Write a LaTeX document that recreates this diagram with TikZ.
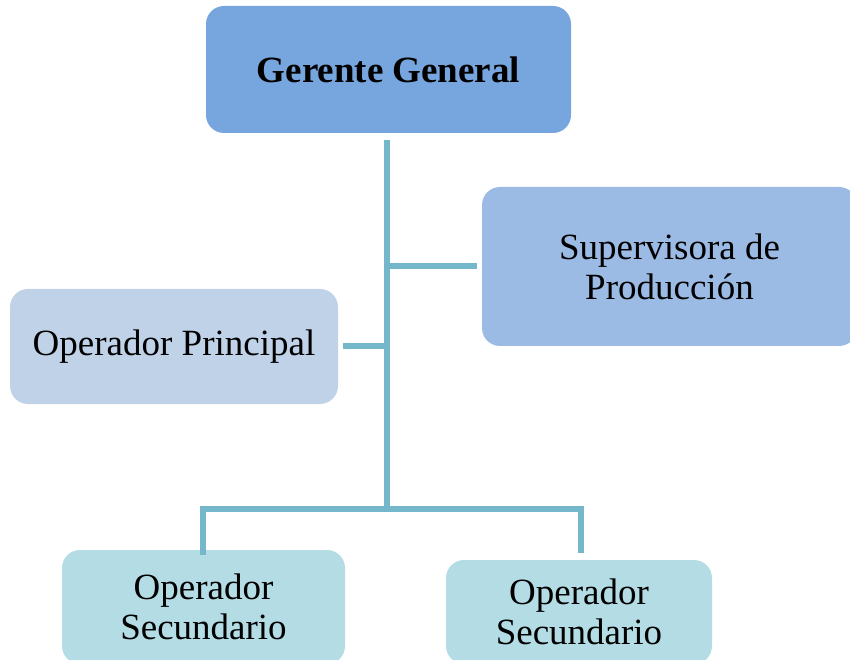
\documentclass[tikz,border=0pt]{standalone}
\usepackage{fontspec}
\setmainfont{Liberation Serif}
\usetikzlibrary{calc}
\definecolor{boxA}{HTML}{77A5DD}
\definecolor{boxB}{HTML}{9BBBE5}
\definecolor{boxC}{HTML}{BFD2E8}
\definecolor{boxD}{HTML}{B3DCE5}
\definecolor{link}{HTML}{74B7CB}
\tikzset{
  orgbox/.style={draw=none, rounded corners=18pt, align=center, inner sep=0pt,
    font=\fontsize{37}{40}\selectfont},
  orglink/.style={draw=link, line width=6pt, line join=miter}
}
\begin{document}
\begin{tikzpicture}[x=1pt,y=1pt]
\useasboundingbox (0,0) rectangle (850,659);
% boxes
\node[orgbox, fill=boxA, minimum width=365pt, minimum height=127pt,
  font=\fontsize{37}{40}\selectfont\bfseries] (gg) at (388.5,589.5) {Gerente General};
\node[orgbox, fill=boxB, minimum width=375pt, minimum height=159pt] (sp) at (669.5,392.5)
  {Supervisora de\\Producción};
\node[orgbox, fill=boxC, minimum width=328pt, minimum height=115pt] (op) at (174,312.5)
  {Operador Principal};
\node[orgbox, fill=boxD, minimum width=283pt, minimum height=114pt] (os1) at (203.5,52)
  {Operador\\Secundario};
\node[orgbox, fill=boxD, minimum width=266pt, minimum height=104pt] (os2) at (579,47)
  {Operador\\Secundario};
% junction points of the tree
\coordinate (top) at (387,519);
\coordinate (hub) at (387,150);
\coordinate (jsp) at (387,393);
\coordinate (jop) at (387,313);
\coordinate (barL) at (203,150);
\coordinate (barR) at (580.5,150);
% connectors
\draw[orglink] (top) -- (hub);
\draw[orglink] (jsp) -- ($(sp.west)+(-5,0.5)$);
\draw[orglink] ($(op.east)+(5,0.5)$) -- (jop);
\draw[orglink] ($(os1.north)+(-0.5,-5)$) -- (barL) -- (barR) -- ($(os2.north)+(1.5,7)$);
\end{tikzpicture}
\end{document}
